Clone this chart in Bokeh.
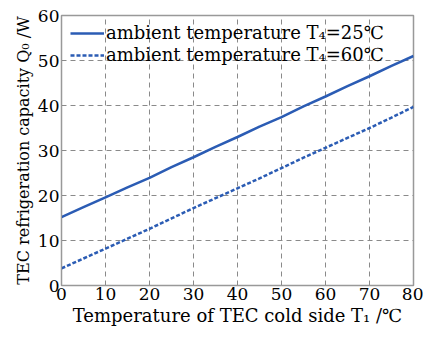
from bokeh.plotting import figure
from bokeh.models import Legend, LegendItem, FixedTicker
from bokeh.embed import file_html
from bokeh.resources import INLINE

t1 = [0, 5, 10, 15, 20, 25, 30, 35, 40, 45, 50, 55, 60, 65, 70, 75, 80]
q_25 = [15.2, 17.4, 19.6, 21.8, 23.9, 26.3, 28.5, 30.8, 33.0, 35.3, 37.4, 39.8, 42.0, 44.3, 46.5, 48.8, 51.0]
q_60 = [3.8, 6.0, 8.2, 10.4, 12.6, 14.9, 17.2, 19.4, 21.6, 23.8, 26.1, 28.4, 30.6, 32.8, 35.0, 37.3, 39.7]
x_ticks = [0, 10, 20, 30, 40, 50, 60, 70, 80]
y_ticks = [0, 10, 20, 30, 40, 50, 60]
labels = ["ambient temperature T\u2084=25\u2103", "ambient temperature T\u2084=60\u2103"]

FONT = "DejaVu Serif"
BLUE = "#2b5cb4"

p = figure(output_backend="svg", toolbar_location=None,
           frame_width=352, frame_height=270,
           x_range=(0, 80), y_range=(0, 60),
           min_border_left=61, min_border_top=15, min_border_right=10, min_border_bottom=50)

r1 = p.line(t1, q_25, line_color=BLUE, line_width=2.5)
r2 = p.line(t1, q_60, line_color=BLUE, line_width=2.5, line_dash="4 2")

p.xaxis.ticker = FixedTicker(ticks=x_ticks)
p.yaxis.ticker = FixedTicker(ticks=y_ticks)
for ax in (p.xaxis[0], p.yaxis[0]):
    ax.major_label_text_font = FONT
    ax.major_label_text_font_size = "17px"
    ax.major_label_text_color = "black"
    ax.axis_label_text_font = FONT
    ax.axis_label_text_font_style = "normal"
    ax.axis_label_text_color = "black"
    ax.axis_line_color = "#999999"
    ax.major_tick_in = 0
    ax.major_tick_out = 0
    ax.minor_tick_in = 0
    ax.minor_tick_out = 0
    ax.major_label_standoff = 2
    ax.axis_label_standoff = 2

p.xaxis.axis_label = "Temperature of TEC cold side T\u2081 /\u2103"
p.yaxis.axis_label = "TEC refrigeration capacity Q\u2080 /W"
p.xaxis.axis_label_text_font_size = "18px"
p.yaxis.axis_label_text_font_size = "16px"

p.xgrid.grid_line_color = "#8a8a8a"
p.ygrid.grid_line_color = "#8a8a8a"
p.xgrid.grid_line_dash = "5 4"
p.ygrid.grid_line_dash = "5 4"
p.xgrid.grid_line_width = 1
p.ygrid.grid_line_width = 1
p.outline_line_color = "#999999"
p.outline_line_width = 1.5

legend = Legend(items=[LegendItem(label=labels[0], renderers=[r1]),
                       LegendItem(label=labels[1], renderers=[r2])],
                location=(9, 220))
legend.label_text_font = FONT
legend.label_text_font_size = "18px"
legend.label_text_color = "black"
legend.border_line_color = None
legend.background_fill_alpha = 0
legend.glyph_width = 34
legend.label_standoff = 2
legend.spacing = 1
legend.padding = 2
legend.margin = 0
legend.label_height = 20
legend.glyph_height = 20
p.add_layout(legend)

open("out.html", "w").write(file_html(p, INLINE))
